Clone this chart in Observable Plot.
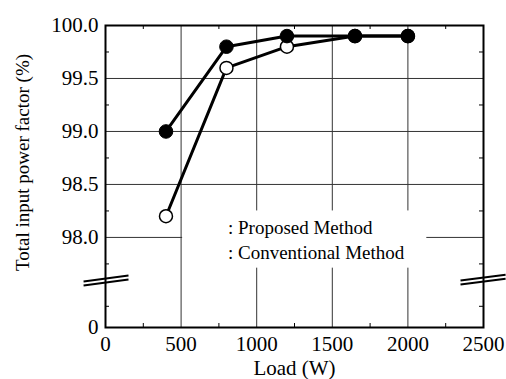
<!DOCTYPE html>
<html><head><meta charset="utf-8">
<script src="https://cdn.jsdelivr.net/npm/d3@7"></script>
<script src="https://cdn.jsdelivr.net/npm/@observablehq/plot@0.6"></script>
<style>html,body{margin:0;padding:0;background:#fff} #chart svg{display:block} #chart svg text{font-family:'Liberation Serif','Times New Roman',Times,serif}</style>
</head><body><div id="chart"></div>
<script>
// ---- data ----
const load = [400, 800, 1200, 1650, 2000];
const proposed = [99.0, 99.8, 99.9, 99.9, 99.9];
const conventional = [98.2, 99.6, 99.8, 99.9, 99.9];
const seriesNames = ["Proposed Method", "Conventional Method"];
const xTicks = [0, 500, 1000, 1500, 2000, 2500];
const xMinor = [250, 750, 1250, 1750, 2250];
const yTicks = [98.0, 98.5, 99.0, 99.5, 100.0];
const yMinor = [97.35, 97.75, 98.25, 98.75, 99.25, 99.75];
const yZero = 97.15;          // broken axis: this position is labelled "0"
const yZeroLabel = "0";
const xLabel = "Load (W)";
const yLabel = "Total input power factor (%)";

// ---- build tables ----
const propRows = load.map((x, i) => ({load: x, pf: proposed[i]}));
const convRows = load.map((x, i) => ({load: x, pf: conventional[i]}));
const W = 506, H = 379, mL = 105, mR = 23, mT = 25, mB = 52;
const pw = W - mL - mR, ph = H - mT - mB;
const serif = "'Liberation Serif','Times New Roman',Times,serif";

// axis-break decoration (double slanted strokes) on both sides
const brk = 97.565, slant = 0.056;
const breaks = [
  {x1: -145, x2: 152, y1: brk, y2: brk + slant},
  {x1: 2348, x2: 2646, y1: brk + 0.009, y2: brk + 0.009 + slant}
];

const chart = Plot.plot({
  width: W, height: H,
  marginLeft: mL, marginRight: mR, marginTop: mT, marginBottom: mB,
  style: {fontFamily: serif, background: "#fff", color: "#000"},
  x: {domain: [0, 2500]},
  y: {domain: [yZero, 100]},
  marks: [
    Plot.ruleX(xTicks.slice(1, -1), {stroke: "#333", strokeWidth: 1}),
    Plot.ruleY(yTicks.slice(0, -1), {stroke: "#333", strokeWidth: 1}),
    // inward minor ticks
    Plot.tickY(yMinor, {y: d => d, insetRight: pw - 4, stroke: "#000"}),
    Plot.tickY(yMinor, {y: d => d, insetLeft: pw - 4, stroke: "#000"}),
    Plot.tickX(xMinor, {x: d => d, insetTop: ph - 4, stroke: "#000"}),
    Plot.tickX(xMinor, {x: d => d, insetBottom: ph - 4, stroke: "#000"}),
    // legend box
    Plot.rect([0], {x1: 510, x2: 2125, y1: 97.71, y2: 98.25, fill: "#fff"}),
    Plot.text(seriesNames, {x: 810, y: [98.09, 97.855], text: d => ": " + d,
      textAnchor: "start", fontSize: 19, fontFamily: serif, fill: "#000"}),
    Plot.frame({stroke: "#000", strokeWidth: 2}),
    // break marks
    Plot.link(breaks, {x1: "x1", x2: "x2", y1: "y1", y2: "y2", dy: -2, stroke: "#000", strokeWidth: 2}),
    Plot.link(breaks, {x1: "x1", x2: "x2", y1: "y1", y2: "y2", dy: 2, stroke: "#000", strokeWidth: 2}),
    // series
    Plot.line(convRows, {x: "load", y: "pf", stroke: "#000", strokeWidth: 3}),
    Plot.line(propRows, {x: "load", y: "pf", stroke: "#000", strokeWidth: 3}),
    Plot.dot(convRows, {x: "load", y: "pf", r: 6.5, fill: "#fff", stroke: "#000", strokeWidth: 1.5}),
    Plot.dot(propRows, {x: "load", y: "pf", r: 6.8, fill: "#000", stroke: "#000", strokeWidth: 1}),
    // axes
    Plot.axisX(xTicks, {tickSize: 0, tickPadding: 9, fontSize: 21, fontFamily: serif, label: null,
      tickFormat: d => String(d)}),
    Plot.axisY([yZero, ...yTicks], {tickSize: 0, tickPadding: 7, fontSize: 21, fontFamily: serif, label: null,
      tickFormat: d => d === yZero ? yZeroLabel : d.toFixed(1)}),
    Plot.text([xLabel], {frameAnchor: "bottom", dy: 47, fontSize: 21, fontFamily: serif, fill: "#000"}),
    Plot.text([yLabel], {frameAnchor: "left", rotate: -90, textAnchor: "middle", dx: -83, dy: -14,
      fontSize: 19, fontFamily: serif, fill: "#000"})
  ]
});
document.getElementById("chart").appendChild(chart);
</script>
</body></html>
